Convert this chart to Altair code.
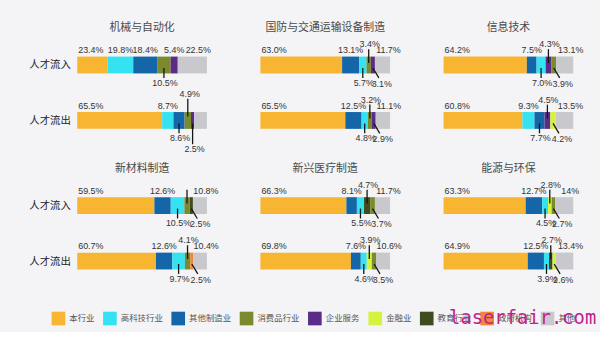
import altair as alt
import pandas as pd

CJK = "Noto Sans CJK SC"

panels = ["机械与自动化", "国防与交通运输设备制造", "信息技术",
          "新材料制造", "新兴医疗制造", "能源与环保"]
flows = ["人才流入", "人才流出"]
industries = ["本行业", "高科技行业", "其他制造业", "消费品行业", "企业服务",
              "金融业", "教育行业", "政府机构", "其他"]
colors = ["#f7b531", "#35e2f2", "#1566a8", "#7b8a2e", "#5a2c88",
          "#d7f23e", "#3e4c1e", "#f0883a", "#c9c9cd"]

# segments of each bar, left to right: industry, value (%), label placement code
seg_industry = [
    [["本行业", "高科技行业", "其他制造业", "消费品行业", "企业服务", "其他"],
     ["本行业", "高科技行业", "其他制造业", "消费品行业", "企业服务", "其他"]],
    [["本行业", "其他制造业", "高科技行业", "消费品行业", "企业服务", "其他"],
     ["本行业", "其他制造业", "高科技行业", "消费品行业", "企业服务", "其他"]],
    [["本行业", "其他制造业", "高科技行业", "企业服务", "消费品行业", "其他"],
     ["本行业", "高科技行业", "其他制造业", "企业服务", "金融业", "其他"]],
    [["本行业", "其他制造业", "高科技行业", "消费品行业", "教育行业", "其他"],
     ["本行业", "其他制造业", "高科技行业", "消费品行业", "政府机构", "其他"]],
    [["本行业", "其他制造业", "高科技行业", "教育行业", "消费品行业", "其他"],
     ["本行业", "其他制造业", "高科技行业", "金融业", "消费品行业", "其他"]],
    [["本行业", "其他制造业", "高科技行业", "金融业", "消费品行业", "其他"],
     ["本行业", "其他制造业", "高科技行业", "教育行业", "金融业", "其他"]],
]
seg_values = [
    [["23.4", "19.8", "18.4", "10.5", "5.4", "22.5"],
     ["65.5", "8.7", "8.6", "4.9", "2.5", "9.8"]],
    [["63.0", "13.1", "5.7", "3.4", "3.1", "11.7"],
     ["65.5", "12.5", "4.8", "3.2", "2.9", "11.1"]],
    [["64.2", "7.5", "7.0", "4.3", "3.9", "13.1"],
     ["60.8", "9.3", "7.7", "4.5", "4.2", "13.5"]],
    [["59.5", "12.6", "10.5", "4.1", "2.5", "10.8"],
     ["60.7", "12.6", "9.7", "4.1", "2.5", "10.4"]],
    [["66.3", "8.1", "5.5", "4.7", "3.7", "11.7"],
     ["69.8", "7.6", "4.6", "3.9", "3.5", "10.6"]],
    [["63.3", "12.7", "4.5", "2.8", "2.7", "14"],
     ["64.9", "12.5", "3.9", "2.7", "2.6", "13.4"]],
]
seg_place = [
    [["s", "a", "a", "b", "a", "g"], ["s", "a", "b", "t", "d", "n"]],
    [["s", "a", "b", "u", "c", "g"], ["s", "a", "b", "u", "c", "g"]],
    [["s", "a", "b", "u", "c", "g"], ["s", "a", "b", "u", "c", "g"]],
    [["s", "a", "b", "l", "c", "g"], ["s", "a", "b", "u", "c", "g"]],
    [["s", "a", "b", "u", "c", "g"], ["s", "a", "b", "u", "c", "g"]],
    [["s", "a", "b", "u", "c", "g"], ["s", "a", "b", "u", "c", "g"]],
]

# label styles: (x field, align, dx, dy)
TXT = {
    "s": ("x0", "left", 1, -15),
    "a": ("mid", "center", 0, -15),
    "g": ("mid", "center", 6, -15),
    "u": ("mid", "center", 1, -21),
    "t": ("mid", "center", 2, -27),
    "b": ("mid", "center", 1, 18),
    "c": ("mid", "center", 9, 19),
    "d": ("mid", "center", 2, 29),
}
# leader lines: (yOffset, y2Offset, x2Offset)
RULE = {
    "u": (-16, -2, 0),
    "l": (-16, -2, 0),
    "t": (-22, -4, 0),
    "b": (3, 13, 0),
    "c": (3, 13, 6),
    "d": (3, 24, 0),
}

xscale = alt.Scale(domain=[0, 100], nice=False, zero=False, padding=0)
yscale = alt.Scale(domain=[-0.5, 1.5], nice=False, zero=False, reverse=True, padding=0)
color_enc = alt.Color(
    "industry:N",
    scale=alt.Scale(domain=industries, range=colors),
    legend=alt.Legend(
        orient="none", legendX=-26, legendY=277, direction="horizontal",
        title=None, symbolType="square", symbolSize=190, symbolStrokeWidth=0,
        labelFontSize=8.5, labelFont=CJK, labelColor="#555", labelOffset=4,
        columnPadding=8, columns=9,
    ),
)


def make_panel(pi):
    rows = []
    for fi in range(2):
        for k, (ind, val, code) in enumerate(
                zip(seg_industry[pi][fi], seg_values[pi][fi], seg_place[pi][fi])):
            rows.append(dict(flow=fi, order=k, industry=ind, value=float(val),
                             label=val + "%", code=code))
    df = pd.DataFrame(rows)
    base = alt.Chart(df).transform_stack(
        stack="value", as_=["x0", "x1"], groupby=["flow"],
        sort=[alt.SortField("order", order="ascending")],
    ).transform_calculate(mid="(datum.x0 + datum.x1) / 2")

    if pi % 3 == 0:
        yaxis = alt.Axis(values=[0, 1], title=None, domain=False, ticks=False, grid=False,
                         labelExpr="datum.value == 0 ? '人才流入' : '人才流出'",
                         labelFont=CJK, labelFontSize=10.5, labelColor="#222",
                         labelPadding=7)
    else:
        yaxis = None
    yenc = alt.Y("flow:Q", scale=yscale, axis=yaxis)

    layers = [base.mark_bar(orient="horizontal", size=17).encode(
        x=alt.X("x0:Q", scale=xscale, axis=None), x2="x1:Q", y=yenc, color=color_enc)]
    for code, (y1, y2, x2o) in RULE.items():
        layers.append(base.transform_filter(alt.datum.code == code).mark_rule(
            color="#151515", strokeWidth=1.3, yOffset=y1, y2Offset=y2, x2Offset=x2o
        ).encode(x=alt.X("mid:Q", scale=xscale, axis=None), x2="mid:Q",
                 y=yenc, y2="flow:Q"))
    for code, (field, align, dx, dy) in TXT.items():
        layers.append(base.transform_filter(alt.datum.code == code).mark_text(
            align=align, baseline="middle", dx=dx, dy=dy, fontSize=9,
            font="Liberation Sans", color="#333"
        ).encode(x=alt.X(f"{field}:Q", scale=xscale, axis=None), y=yenc,
                 text="label:N"))
    return alt.layer(*layers).properties(
        width=131, height=112,
        title=alt.Title(panels[pi], font=CJK, fontSize=11, color="#4a4a4a",
                        fontWeight="normal", offset=4, frame="group", anchor="middle"),
    )


chart = alt.concat(
    *[make_panel(i) for i in range(6)],
    columns=3, spacing={"row": 30, "column": 54}, bounds="flush",
).properties(
    padding={"left": 29, "top": 21, "right": 3, "bottom": 2},
    background="#f4f4f6",
    title=alt.Title("laserfair.com", orient="bottom", anchor="end",
                    font="DejaVu Sans Mono", fontSize=19, color="#c21e8c",
                    fontWeight="normal", offset=-16, dx=13),
).configure_view(stroke=None)

chart.save("out.html", embed_options={"renderer": "svg", "actions": False})
